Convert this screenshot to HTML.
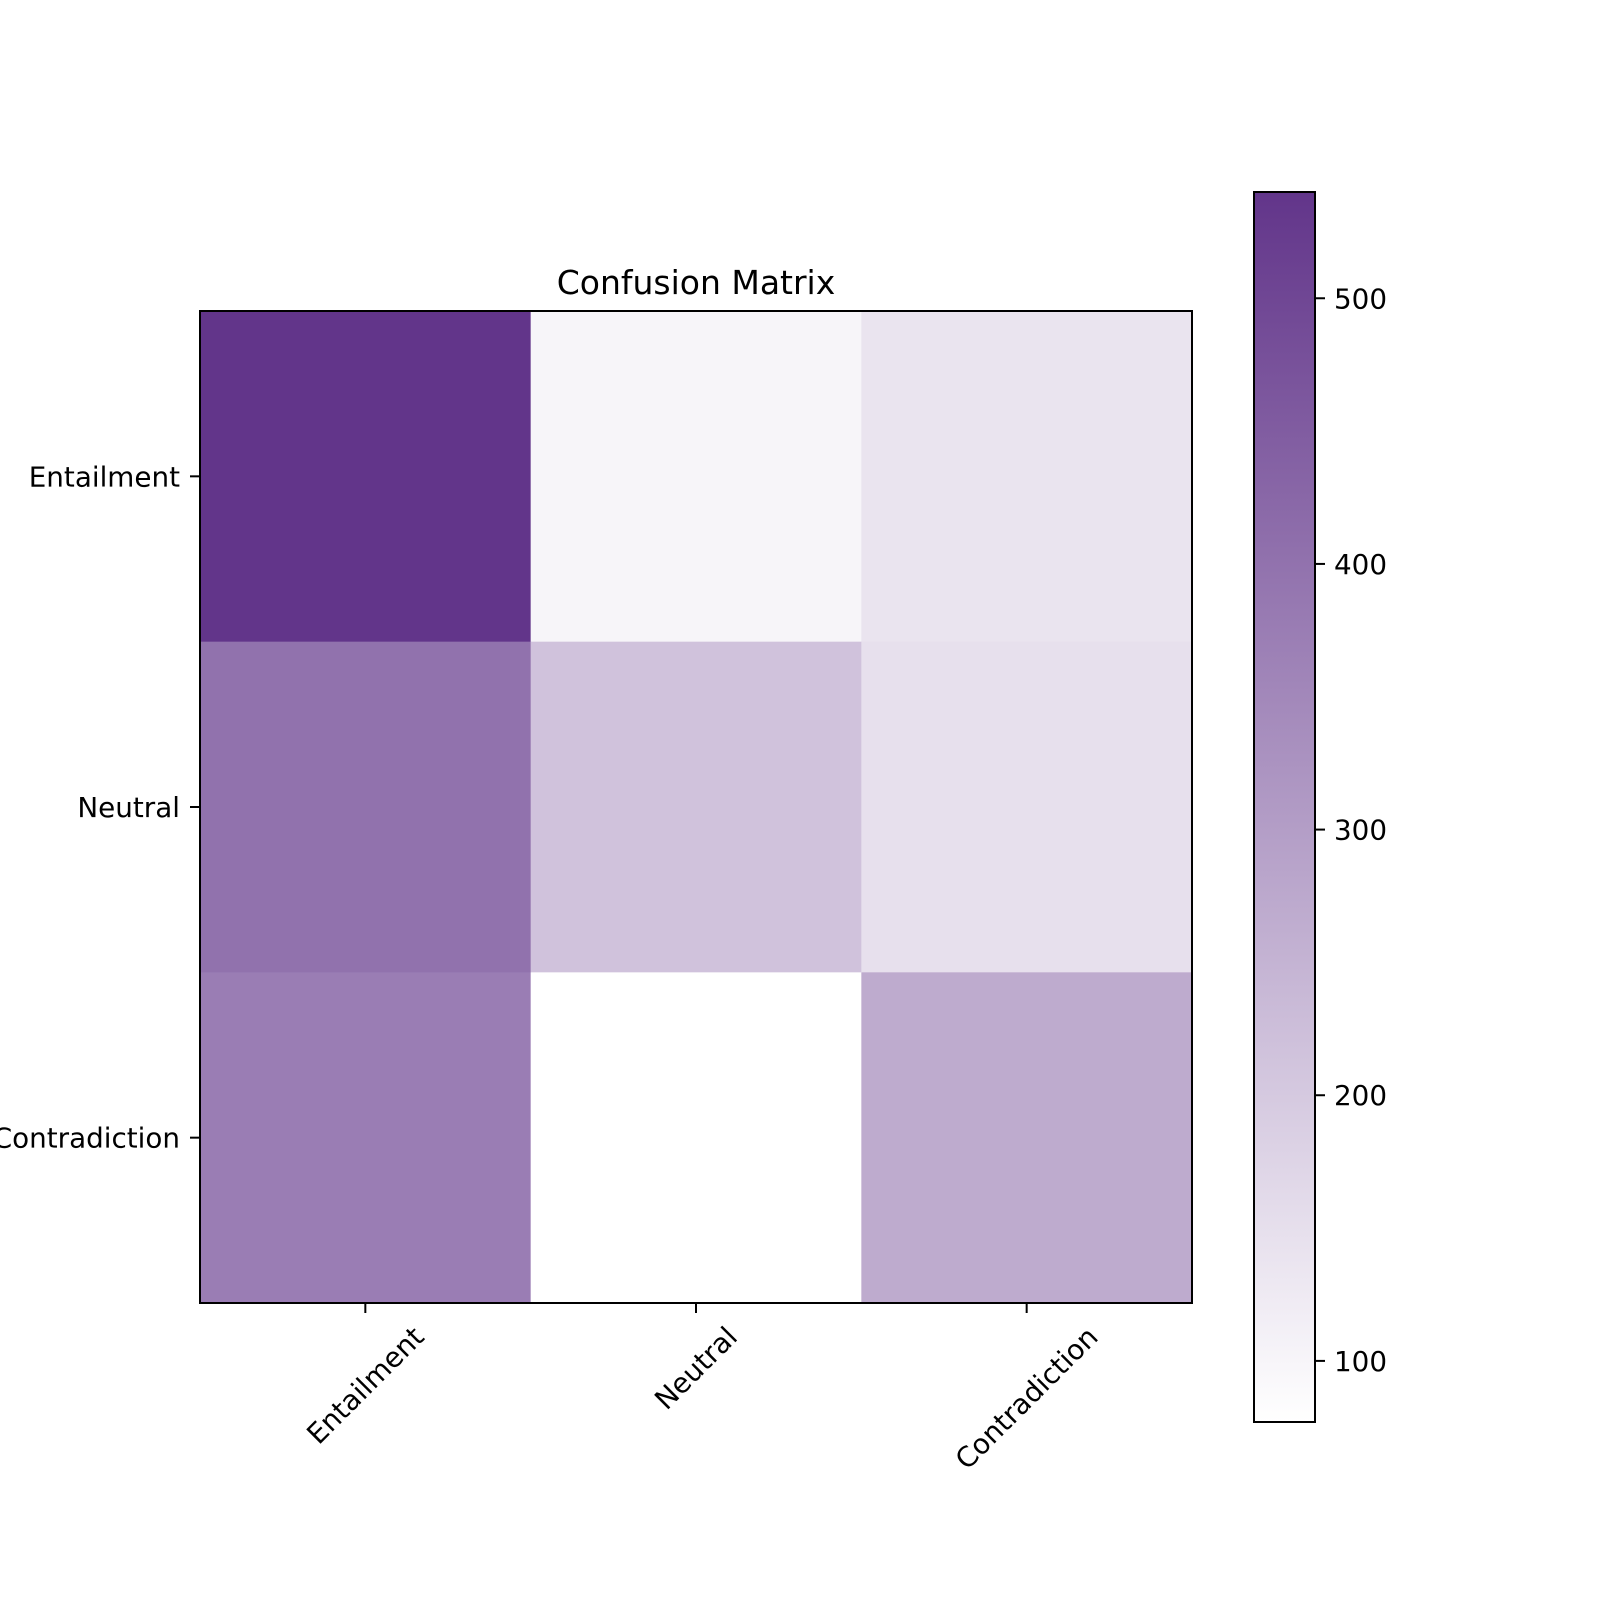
<!DOCTYPE html>
<html><head><meta charset="utf-8"><style>
html,body{margin:0;padding:0;background:#fff}
svg{display:block;font-family:"DejaVu Sans","Liberation Sans",sans-serif}
</style></head><body>
<svg id="chart" width="1600" height="1600" viewBox="0 0 1600 1600" xmlns="http://www.w3.org/2000/svg">
<defs><linearGradient id="cbgrad" x1="0" y1="1" x2="0" y2="0"><stop offset="0" stop-color="#ffffff"/><stop offset="1" stop-color="#62358a"/></linearGradient></defs>
<g id="cells"></g>
<rect x="200" y="311" width="992" height="992" fill="none" stroke="#000" stroke-width="2"/>
<text x="696" y="294" font-size="33" text-anchor="middle">Confusion Matrix</text>
<g id="yticks"></g>
<g id="xticks"></g>
<rect x="1254" y="192" width="61" height="1230" fill="url(#cbgrad)" stroke="#000" stroke-width="2"/>
<g id="cbticks"></g>
</svg>
<script>
const categories = ["Entailment", "Neutral", "Contradiction"];
const matrixValues = [
  [540, 101, 139],
  [401, 216, 148],
  [375, 77, 269]
];
const colorbarTicks = [100, 200, 300, 400, 500];
const vmin = 77, vmax = 540;

const NS = "http://www.w3.org/2000/svg";
const L = 200, T = 311, S = 992, n = categories.length, cw = S / n;
const cbTop = 192, cbBot = 1422, cbX = 1315;
function colorFor(v) {
  const t = Math.max(0, Math.min(1, (v - vmin) / (vmax - vmin)));
  const c = [255 + (98 - 255) * t, 255 + (53 - 255) * t, 255 + (138 - 255) * t].map(Math.round);
  return `rgb(${c[0]},${c[1]},${c[2]})`;
}
function cbY(v) { return cbBot - (v - vmin) / (vmax - vmin) * (cbBot - cbTop); }
function mk(tag, attrs, parent) { const e = document.createElementNS(NS, tag); for (const k in attrs) e.setAttribute(k, attrs[k]); parent.appendChild(e); return e; }

const cells = document.getElementById("cells");
matrixValues.forEach((row, i) => row.forEach((v, j) => {
  const r = mk("rect", { x: L + j * cw, y: T + i * cw, width: cw + 0.5, height: cw + 0.5, fill: colorFor(v) }, cells);
  
  
}));

const yt = document.getElementById("yticks");
categories.forEach((c, i) => {
  const y = T + (i + 0.5) * cw;
  mk("line", { x1: L - 10, x2: L, y1: y, y2: y, stroke: "#000", "stroke-width": 2 }, yt);
  const t = mk("text", { x: L - 20, y: y + 10, "font-size": 27.8, "text-anchor": "end" }, yt);
  t.textContent = c;
  
  
});

const xt = document.getElementById("xticks");
categories.forEach((c, j) => {
  const x = L + (j + 0.5) * cw;
  mk("line", { x1: x, x2: x, y1: T + S, y2: T + S + 10, stroke: "#000", "stroke-width": 2 }, xt);
  const t = mk("text", { x: 0, y: 0, "font-size": 27.8, "text-anchor": "middle", "dominant-baseline": "central" }, xt);
  t.textContent = c;
  
  
  const w = t.getComputedTextLength(), h = 28;
  const cy = T + S + 19 + (w + h) * 0.7071 / 2;
  t.setAttribute("transform", `translate(${x},${cy}) rotate(-45)`);
});

const cb = document.getElementById("cbticks");
colorbarTicks.forEach(v => {
  const y = cbY(v);
  mk("line", { x1: cbX, x2: cbX + 10, y1: y, y2: y, stroke: "#000", "stroke-width": 2 }, cb);
  const t = mk("text", { x: cbX + 19, y: y + 10, "font-size": 27.8 }, cb);
  t.textContent = v;
  
  
});
</script>
</body></html>
